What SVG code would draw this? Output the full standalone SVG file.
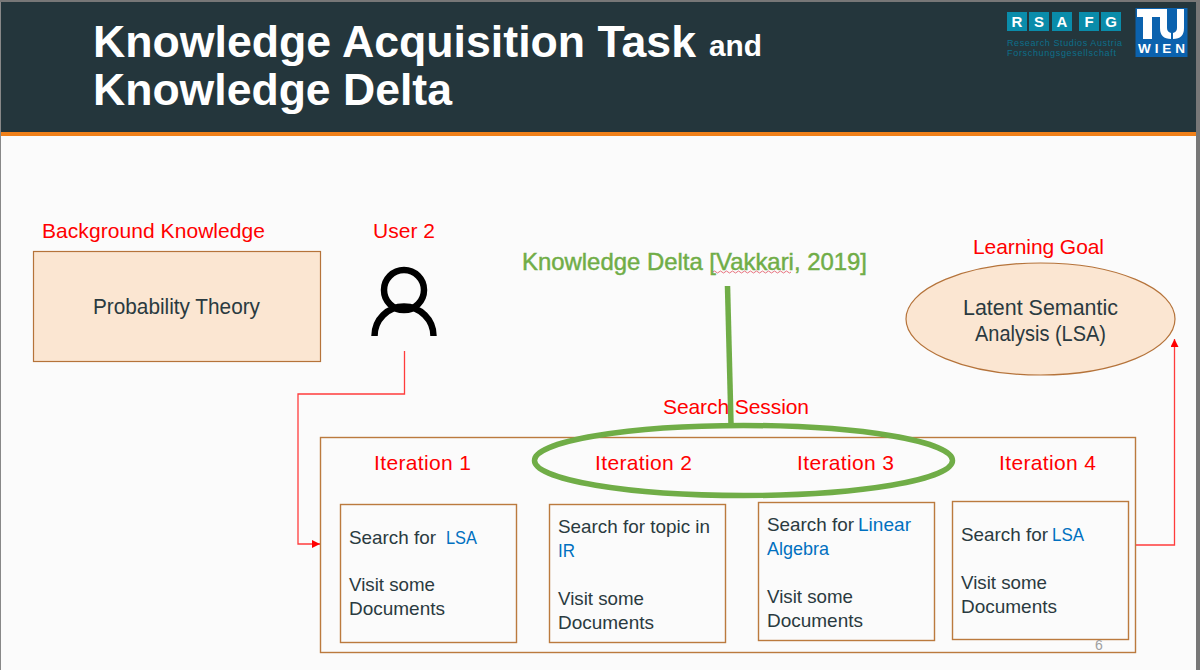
<svg xmlns="http://www.w3.org/2000/svg" width="1200" height="670" viewBox="0 0 1200 670">
<style>
text{font-family:"Liberation Sans",Arial,sans-serif}
.t{font-weight:bold;fill:#fff;font-size:45px}
.r{fill:#ff0000;font-size:21px}
.b{fill:#2a3a40;font-size:19px}
.m{fill:#2a3a40;font-size:22px}
.l{fill:#0070c0;font-size:19px}
.box{fill:#fbfbfb;stroke:#bb7a3e;stroke-width:1.4}
.peach{fill:#fbe6d2;stroke:#b5733a;stroke-width:1.2}
.conn{fill:none;stroke:#ff3c3c;stroke-width:1.3}
.g{fill:#70ad47;font-size:24px;stroke:#70ad47;stroke-width:.45}
.gl{fill:none;stroke:#70ad47;stroke-width:5.500}
</style>
<defs>
<marker id="arr" markerWidth="9" markerHeight="8" refX="8" refY="4" orient="auto" markerUnits="userSpaceOnUse"><path d="M0 0L8 4L0 8Z" fill="#ff0000"/></marker>
</defs>
<rect width="1200" height="670" fill="#fbfbfb"/>
<rect width="1200" height="132" fill="#24363c"/>
<rect y="132" width="1200" height="4" fill="#f08019"/>
<rect x="1196" width="4" height="670" fill="#777"/>
<rect width="1" height="670" fill="#888"/>
<rect width="1200" height="2" fill="#777"/>
<text class="t" x="93" y="57" textLength="603" lengthAdjust="spacingAndGlyphs">Knowledge Acquisition Task</text>
<text x="709" y="56" font-size="29" font-weight="bold" fill="#fff" textLength="53" lengthAdjust="spacingAndGlyphs">and</text>
<text class="t" x="93" y="105" textLength="359" lengthAdjust="spacingAndGlyphs">Knowledge Delta</text>
<g id="logo-rsafg">
<rect x="1007" y="12" width="20" height="19" fill="#0a8caa"/><rect x="1029" y="12" width="20" height="19" fill="#0a8caa"/><rect x="1052" y="12" width="20" height="19" fill="#0a8caa"/><rect x="1079" y="12" width="20" height="19" fill="#0a8caa"/><rect x="1101" y="12" width="20" height="19" fill="#0a8caa"/>
<g font-size="15" font-weight="bold" fill="#fff" text-anchor="middle"><text x="1017" y="27">R</text><text x="1039" y="27">S</text><text x="1062" y="27">A</text><text x="1089" y="27">F</text><text x="1111" y="27">G</text></g>
<text x="1007" y="45.500" font-size="9" fill="#0d6f8a" textLength="115">Research Studios Austria</text>
<text x="1007" y="56" font-size="9" fill="#0d6f8a" textLength="109">Forschungsgesellschaft</text>
</g>
<g id="logo-tu">
<rect x="1135.500" y="8" width="52" height="49" fill="#0b62ae"/>
<path d="M1137 9H1167V28Q1167 32 1171 33V39Q1160 39 1160 28V17H1152V39H1143V17H1137ZM1177 9H1184V28Q1184 39 1173 39V33Q1177 32 1177 28Z" fill="#fff"/>
<text x="1138" y="53" font-size="13.500" font-weight="bold" fill="#fff" textLength="47">WIEN</text>
</g>
<g id="background">
<text class="r" x="42" y="238" textLength="223">Background Knowledge</text>
<rect class="peach" x="33.500" y="251.500" width="287" height="110"/>
<text class="m" x="93" y="314" textLength="167" lengthAdjust="spacingAndGlyphs">Probability Theory</text>
</g>
<g id="user">
<text class="r" x="373" y="238" textLength="62">User 2</text>
<circle cx="404" cy="290" r="20" fill="none" stroke="#000" stroke-width="6.500"/>
<path d="M374.500 336A29.500 29.500 0 0 1 433.500 336" fill="none" stroke="#000" stroke-width="6.500"/>
</g>
<g id="goal">
<text class="r" x="973" y="254" textLength="131">Learning Goal</text>
<ellipse class="peach" cx="1040.500" cy="319" rx="134.500" ry="56"/>
<text class="m" x="963" y="315" textLength="155" lengthAdjust="spacingAndGlyphs">Latent Semantic</text>
<text class="m" x="975" y="341" textLength="131" lengthAdjust="spacingAndGlyphs">Analysis (LSA)</text>
</g>
<g id="session">
<rect class="box" x="320.500" y="437.500" width="815" height="215"/>
</g>
<g id="iter1">
<text class="r" x="374" y="470" textLength="97">Iteration 1</text>
<rect class="box" x="340.500" y="504.500" width="176" height="138"/>
<text class="b" x="349" y="544" textLength="87" lengthAdjust="spacingAndGlyphs">Search for</text>
<text class="l" x="446" y="544" textLength="31" lengthAdjust="spacingAndGlyphs">LSA</text>
<text class="b" x="349" y="591" textLength="86" lengthAdjust="spacingAndGlyphs">Visit some</text>
<text class="b" x="349" y="615" textLength="96" lengthAdjust="spacingAndGlyphs">Documents</text>
</g>
<g id="iter2">
<text class="r" x="595" y="470" textLength="97">Iteration 2</text>
<rect class="box" x="549.500" y="504.500" width="176" height="138"/>
<text class="b" x="558" y="533" textLength="152" lengthAdjust="spacingAndGlyphs">Search for topic in</text>
<text class="l" x="558" y="557" textLength="17" lengthAdjust="spacingAndGlyphs">IR</text>
<text class="b" x="558" y="605" textLength="86" lengthAdjust="spacingAndGlyphs">Visit some</text>
<text class="b" x="558" y="629" textLength="96" lengthAdjust="spacingAndGlyphs">Documents</text>
</g>
<g id="iter3">
<text class="r" x="797" y="470" textLength="97">Iteration 3</text>
<rect class="box" x="758.500" y="502.500" width="176" height="138"/>
<text class="b" x="767" y="531" textLength="87" lengthAdjust="spacingAndGlyphs">Search for</text>
<text class="l" x="858" y="531" textLength="53" lengthAdjust="spacingAndGlyphs">Linear</text>
<text class="l" x="767" y="555" textLength="62" lengthAdjust="spacingAndGlyphs">Algebra</text>
<text class="b" x="767" y="603" textLength="86" lengthAdjust="spacingAndGlyphs">Visit some</text>
<text class="b" x="767" y="627" textLength="96" lengthAdjust="spacingAndGlyphs">Documents</text>
</g>
<g id="iter4">
<text class="r" x="999" y="470" textLength="97">Iteration 4</text>
<rect class="box" x="952.500" y="501.500" width="176" height="138"/>
<text class="b" x="961" y="541" textLength="87" lengthAdjust="spacingAndGlyphs">Search for</text>
<text class="l" x="1052" y="541" textLength="32" lengthAdjust="spacingAndGlyphs">LSA</text>
<text class="b" x="961" y="589" textLength="86" lengthAdjust="spacingAndGlyphs">Visit some</text>
<text class="b" x="961" y="613" textLength="96" lengthAdjust="spacingAndGlyphs">Documents</text>
</g>
<text x="1095" y="650" font-size="14" fill="#a0a0a0">6</text>
<text class="r" x="663" y="414" textLength="146">Search Session</text>
<g id="delta">
<text class="g" x="522" y="270" textLength="345" lengthAdjust="spacingAndGlyphs">Knowledge Delta [Vakkari, 2019]</text>
<path d="M713 272q1.500-2 3 0t3 0 3 0 3 0 3 0 3 0 3 0 3 0 3 0 3 0 3 0 3 0 3 0 3 0 3 0 3 0 3 0 3 0 3 0 3 0 3 0 3 0 3 0 3 0 3 0 3 0" fill="none" stroke="#e05060" stroke-width="0.800"/>
</g>
<g id="connectors">
<path class="conn" d="M404.500 351V394H298V544H320" marker-end="url(#arr)"/>
<path class="conn" d="M1136 545H1174.500V339" marker-end="url(#arr)"/>
<path class="gl" d="M727.500 286L731 424"/>
<ellipse class="gl" cx="743.500" cy="460.500" rx="209" ry="35"/>
</g>
</svg>
